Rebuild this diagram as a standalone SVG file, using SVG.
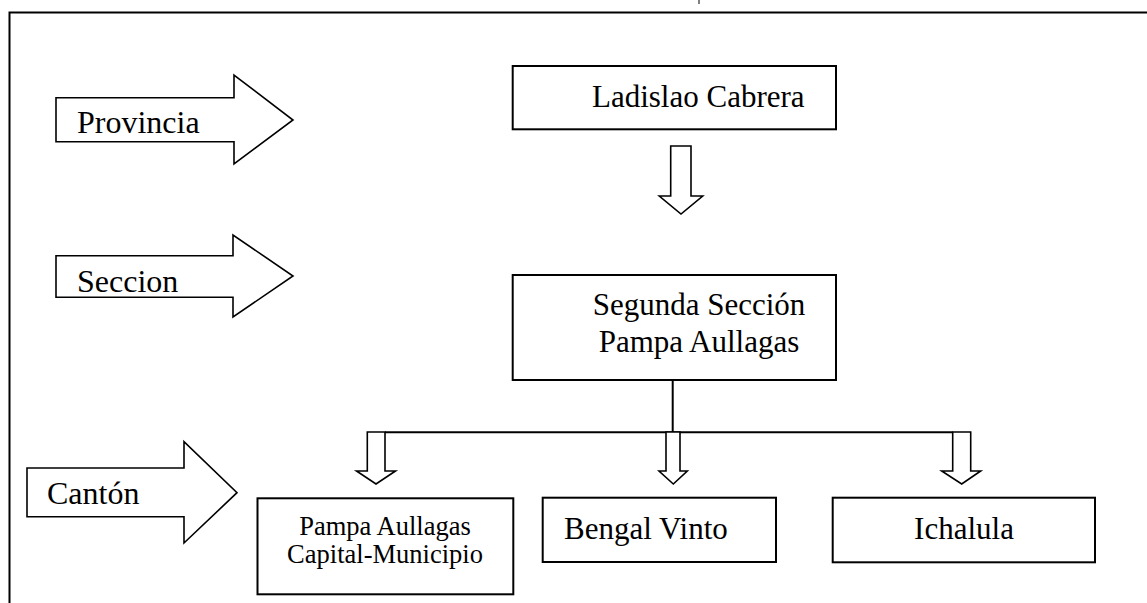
<svg xmlns="http://www.w3.org/2000/svg" width="1147" height="603" viewBox="0 0 1147 603">
<style>
.frame{fill:none;stroke:#000;stroke-width:2}
.box{fill:#fff;stroke:#000;stroke-width:2}
.arrow{fill:#fff;stroke:#000;stroke-width:1.6;stroke-linejoin:miter}
.line{fill:none;stroke:#000;stroke-width:2}
text{font-family:"Liberation Serif","Times New Roman",serif;fill:#000}
.lbl{font-size:32px}
.t{font-size:31px}
.s{font-size:26.5px}
</style>
<rect width="1147" height="603" fill="#fff"/>
<g id="frame">
<polyline class="frame" points="9.5,603 9.5,12.5 1147,12.5"/>
<line x1="699" y1="0" x2="699" y2="4" stroke="#000" stroke-width="1"/>
</g>
<g id="provincia">
<polygon class="arrow" points="56,97.7 234,97.7 234,75 293,120 234,164 234,141.7 56,141.7"/>
<text class="lbl" x="77" y="132.5">Provincia</text>
</g>
<g id="seccion">
<polygon class="arrow" points="56,255.7 233,255.7 233,235 293,276 233,317 233,297.3 56,297.3"/>
<text class="lbl" x="77" y="291.5">Seccion</text>
</g>
<g id="canton">
<polygon class="arrow" points="27,468 184,468 184,441.7 237,492.7 184,543 184,516.7 27,516.7"/>
<text class="lbl" x="47" y="504">Cantón</text>
</g>
<g id="ladislao">
<rect class="box" x="512.7" y="66" width="323.3" height="63.3"/>
<text class="t" x="592" y="106.7">Ladislao Cabrera</text>
</g>
<g id="segunda">
<rect class="box" x="512.7" y="275" width="323.3" height="105"/>
<text class="t" x="699" y="315" text-anchor="middle">Segunda Sección</text>
<text class="t" x="699" y="351.7" text-anchor="middle">Pampa Aullagas</text>
</g>
<g id="pampa">
<rect class="box" x="257.5" y="498.3" width="255.8" height="96"/>
<text class="s" x="385" y="535" text-anchor="middle">Pampa Aullagas</text>
<text class="s" x="385" y="562.5" text-anchor="middle">Capital-Municipio</text>
</g>
<g id="bengal">
<rect class="box" x="542.7" y="497.7" width="233.3" height="64.3"/>
<text class="t" x="564" y="539">Bengal Vinto</text>
</g>
<g id="ichalula">
<rect class="box" x="832.7" y="497.7" width="262.3" height="64.6"/>
<text class="t" x="964" y="539.3" text-anchor="middle">Ichalula</text>
</g>
<g id="connectors">
<polygon class="arrow" points="670.7,146 691,146 691,196 702.7,196 681,214 659.3,196 670.7,196"/>
<line class="line" x1="672.7" y1="380" x2="672.7" y2="432"/>
<line class="line" x1="385" y1="432.3" x2="952.7" y2="432.3"/>
<polygon class="arrow" points="367.3,432 385,432 385,471 395.5,471 376,484 356.5,471 367.3,471"/>
<polygon class="arrow" points="666,432 680,432 680,471 687.3,471 673.3,484 659,471 666,471"/>
<polygon class="arrow" points="952.7,432 970.7,432 970.7,471 980.7,471 961.7,484 941.7,471 952.7,471"/>
</g>
</svg>
